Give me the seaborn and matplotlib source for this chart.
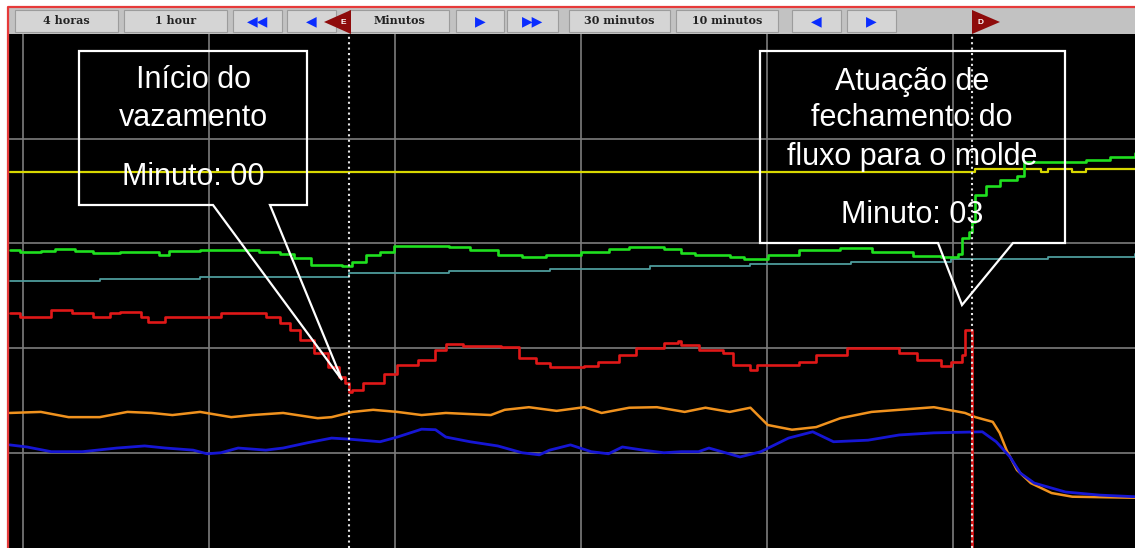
import matplotlib
matplotlib.use("Agg")
import matplotlib.pyplot as plt
from matplotlib.patches import Rectangle, Polygon
from matplotlib.lines import Line2D
from matplotlib.transforms import Affine2D
import seaborn as sns

# time in seconds from cursor E (start of leak); cursor D = minute 03
green_t = [-98, -95, -89, -85, -79, -74, -66, -55, -52, -43, -34, -26, -20, -16, -11, -2, 1, 5, 9, 13,
           23, 29, 35, 43, 50, 57, 67, 75, 81, 91, 96, 100, 110, 114, 121, 130, 142, 151, 163, 171,
           176, 177, 179, 180, 181, 184, 188, 193, 195, 200, 213, 220, 227]
green_v = [58.7, 58.4, 58.6, 58.9, 58.6, 58.2, 58.4, 57.8, 58.6, 58.7, 58.7, 58.4, 58.0, 57.2, 55.9, 55.7, 56.4, 57.8, 58.4, 59.5,
           59.5, 59.3, 58.7, 57.8, 57.4, 57.8, 58.4, 58.9, 59.3, 58.9, 58.2, 57.8, 57.4, 57.0, 57.8, 58.7, 59.1, 58.4, 57.6, 57.4,
           58.0, 61.0, 62.2, 64.1, 69.2, 71.0, 72.1, 72.9, 75.6, 75.6, 75.9, 76.5, 77.3]

cyan_t = [-98, -72, -43, 0, 29, 58, 87, 116, 145, 174, 202, 227]
cyan_v = [52.8, 53.2, 53.6, 54.3, 54.7, 55.1, 55.7, 56.1, 56.4, 57.0, 57.4, 58.0]

yellow_t = [-98, 181, 200, 202, 209, 213, 227]
yellow_v = [73.6, 74.2, 73.7, 74.2, 73.6, 74.2, 74.2]

red_t = [-98, -95, -86, -80, -74, -69, -66, -60, -58, -53, -37, -28, -24, -20, -17, -14, -10, -6, -3, -1,
         0, 1, 4, 10, 14, 20, 25, 28, 33, 44, 49, 54, 58, 68, 72, 78, 83, 91, 95, 96,
         101, 108, 111, 116, 118, 130, 135, 144, 159, 164, 171, 174, 177, 178, 180]
red_v = [46.7, 45.9, 47.3, 46.7, 45.9, 46.7, 46.9, 45.9, 45.0, 45.9, 46.7, 46.7, 45.9, 44.8, 43.5, 41.5, 39.1, 36.4, 34.5, 33.3,
         31.6, 32.0, 33.3, 35.0, 36.8, 37.7, 39.6, 40.8, 40.4, 40.2, 38.1, 37.2, 36.4, 36.6, 37.3, 38.7, 40.0, 41.0, 41.4, 40.6,
         39.6, 39.1, 36.8, 35.8, 36.8, 37.3, 38.7, 40.0, 39.1, 37.7, 36.6, 37.3, 38.7, 43.5, -5]

orange_t = [-98, -89, -81, -72, -64, -57, -51, -43, -34, -28, -19, -9, -5, 1, 7, 14, 21, 28, 41, 45,
            52, 60, 68, 73, 81, 89, 97, 103, 110, 116, 121, 128, 135, 142, 151, 169, 178, 181, 186, 188,
            190, 193, 197, 203, 209, 227]
orange_v = [27.6, 27.8, 26.8, 26.8, 27.8, 27.6, 27.2, 27.8, 26.8, 27.2, 27.6, 26.6, 26.8, 27.8, 28.2, 27.8, 27.2, 27.6, 27.2, 28.2,
            28.7, 28.0, 28.7, 27.6, 28.6, 28.7, 27.8, 28.6, 27.8, 28.6, 25.3, 24.4, 24.9, 26.6, 27.8, 28.7, 27.6, 26.8, 25.9, 23.8,
            20.5, 16.7, 14.2, 12.3, 11.6, 11.4]

blue_t = [-98, -93, -86, -77, -67, -59, -53, -45, -41, -37, -32, -24, -19, -12, -5, 0, 9, 14, 21, 25,
          28, 35, 43, 50, 55, 58, 64, 70, 75, 79, 85, 91, 96, 101, 104, 113, 119, 127, 134, 140,
          150, 159, 169, 183, 187, 191, 194, 198, 207, 217, 227]
blue_v = [21.5, 21.1, 20.2, 20.2, 20.9, 21.3, 20.9, 20.5, 19.8, 20.0, 20.9, 20.5, 20.9, 21.9, 22.8, 22.6, 22.1, 23.0, 24.5, 24.4,
          23.0, 22.1, 21.3, 20.0, 19.6, 20.5, 21.5, 20.2, 19.8, 21.1, 20.5, 20.0, 20.2, 20.2, 20.9, 19.2, 20.2, 22.8, 24.0, 22.1,
          22.4, 23.4, 23.8, 24.0, 22.1, 19.2, 16.1, 14.2, 12.5, 11.9, 11.6]

grid_t = [-94.2, -40.4, 13.3, 67.0, 120.7, 174.5]
grid_y = [20, 40, 60, 80]

buttons = [(15, 118, "4 horas"), (124, 227, "1 hour"), (233, 282, "◀◀"), (287, 336, "◀"),
           (349, 449, "Minutos"), (456, 504, "▶"), (507, 558, "▶▶"), (569, 670, "30 minutos"),
           (676, 778, "10 minutos"), (792, 841, "◀"), (847, 896, "▶")]

sns.set_theme(style="dark", rc={"axes.facecolor": "black", "figure.facecolor": "white"})
plt.rcParams['font.family'] = ['Liberation Sans', 'DejaVu Sans']

W, H = 1135, 548
fig = plt.figure(figsize=(W / 100, H / 100), dpi=100)
pix = Affine2D().scale(1 / W, -1 / H).translate(0, 1) + fig.transFigure
ax = fig.add_axes([9 / W, 0, 1 - 9 / W, 1 - 34 / H])

# trend lines (stepped where the recorder shows clear stairs)
series = [
    (cyan_t, cyan_v, "#4e9c9c", 1.3, "steps-post"),
    (yellow_t, yellow_v, "#d8d800", 1.6, "steps-post"),
    (green_t, green_v, "#1fe01f", 1.9, "steps-post"),
    (orange_t, orange_v, "#f0921e", 1.8, "default"),
    (blue_t, blue_v, "#1616d4", 2.0, "default"),
    (red_t, red_v, "#e01818", 1.9, "steps-post"),
]
for t, v, c, lw, ds in series:
    sns.lineplot(x=t, y=v, color=c, lw=lw, drawstyle=ds, ax=ax)

ax.set_xlim(-98.2, 227.1)
ax.set_ylim(1.8, 100)
ax.set_xticks(grid_t)
ax.set_yticks(grid_y)
ax.tick_params(length=0, labelbottom=False, labelleft=False)
ax.grid(True, color="#7c7c7c", lw=1.2)
ax.set_xlabel("")
ax.set_ylabel("")
for s in ax.spines.values():
    s.set_visible(False)

# cursors E and D
for xc in (0, 180):
    ax.axvline(xc, color="#e4e4e4", lw=1.5, ls=(0, (1, 1.6)), zorder=5)

# toolbar
fig.add_artist(Rectangle((9, 8), 1126, 26, transform=pix, fc="#c2c2c2", ec="none"))
for x0, x1, lab in buttons:
    fig.add_artist(Rectangle((x0, 10), x1 - x0, 22, transform=pix, fc="#d5d5d5", ec="#9c9c9c", lw=0.8))
    if lab[0] in "◀▶":
        fig.text((x0 + x1) / 2, 21, lab, transform=pix, ha="center", va="center",
                 fontsize=10, color="#0a2cff", family="DejaVu Sans")
    else:
        fig.text((x0 + x1) / 2, 21, lab, transform=pix, ha="center", va="center",
                 fontsize=8, color="#222222", family="DejaVu Serif", weight="bold")

fig.add_artist(Polygon([(324, 22), (351, 10), (351, 34)], closed=True, transform=pix, fc="#8e0b0b", ec="none"))
fig.text(343, 22, "E", transform=pix, ha="center", va="center", fontsize=6, color="white", weight="bold")
fig.add_artist(Polygon([(972, 10), (972, 34), (1000, 22)], closed=True, transform=pix, fc="#8e0b0b", ec="none"))
fig.text(980, 22, "D", transform=pix, ha="center", va="center", fontsize=6, color="white", weight="bold")

# red frame
fig.add_artist(Line2D([8, 8, 1135], [548, 7, 7], transform=pix, color="#e63a3a", lw=1.6))

# callouts
fig.add_artist(Polygon([(79, 51), (307, 51), (307, 205), (270, 205), (342, 380), (213, 205), (79, 205)],
                       closed=True, fill=False, ec="white", lw=1.6, transform=pix))
fig.add_artist(Polygon([(760, 51), (1065, 51), (1065, 243), (1013, 243), (962, 305), (938, 243), (760, 243)],
                       closed=True, fill=False, ec="white", lw=1.6, transform=pix))

callout_text = [("Início do", 193, 80), ("vazamento", 193, 118), ("Minuto: 00", 193, 177),
                ("Atuação de", 912, 82), ("fechamento do", 912, 118), ("fluxo para o molde", 912, 157),
                ("Minuto: 03", 912, 215)]
for txt, x, y in callout_text:
    fig.text(x, y, txt, transform=pix, ha="center", va="center", fontsize=22, color="white")

fig.savefig("out.png", dpi=100)
